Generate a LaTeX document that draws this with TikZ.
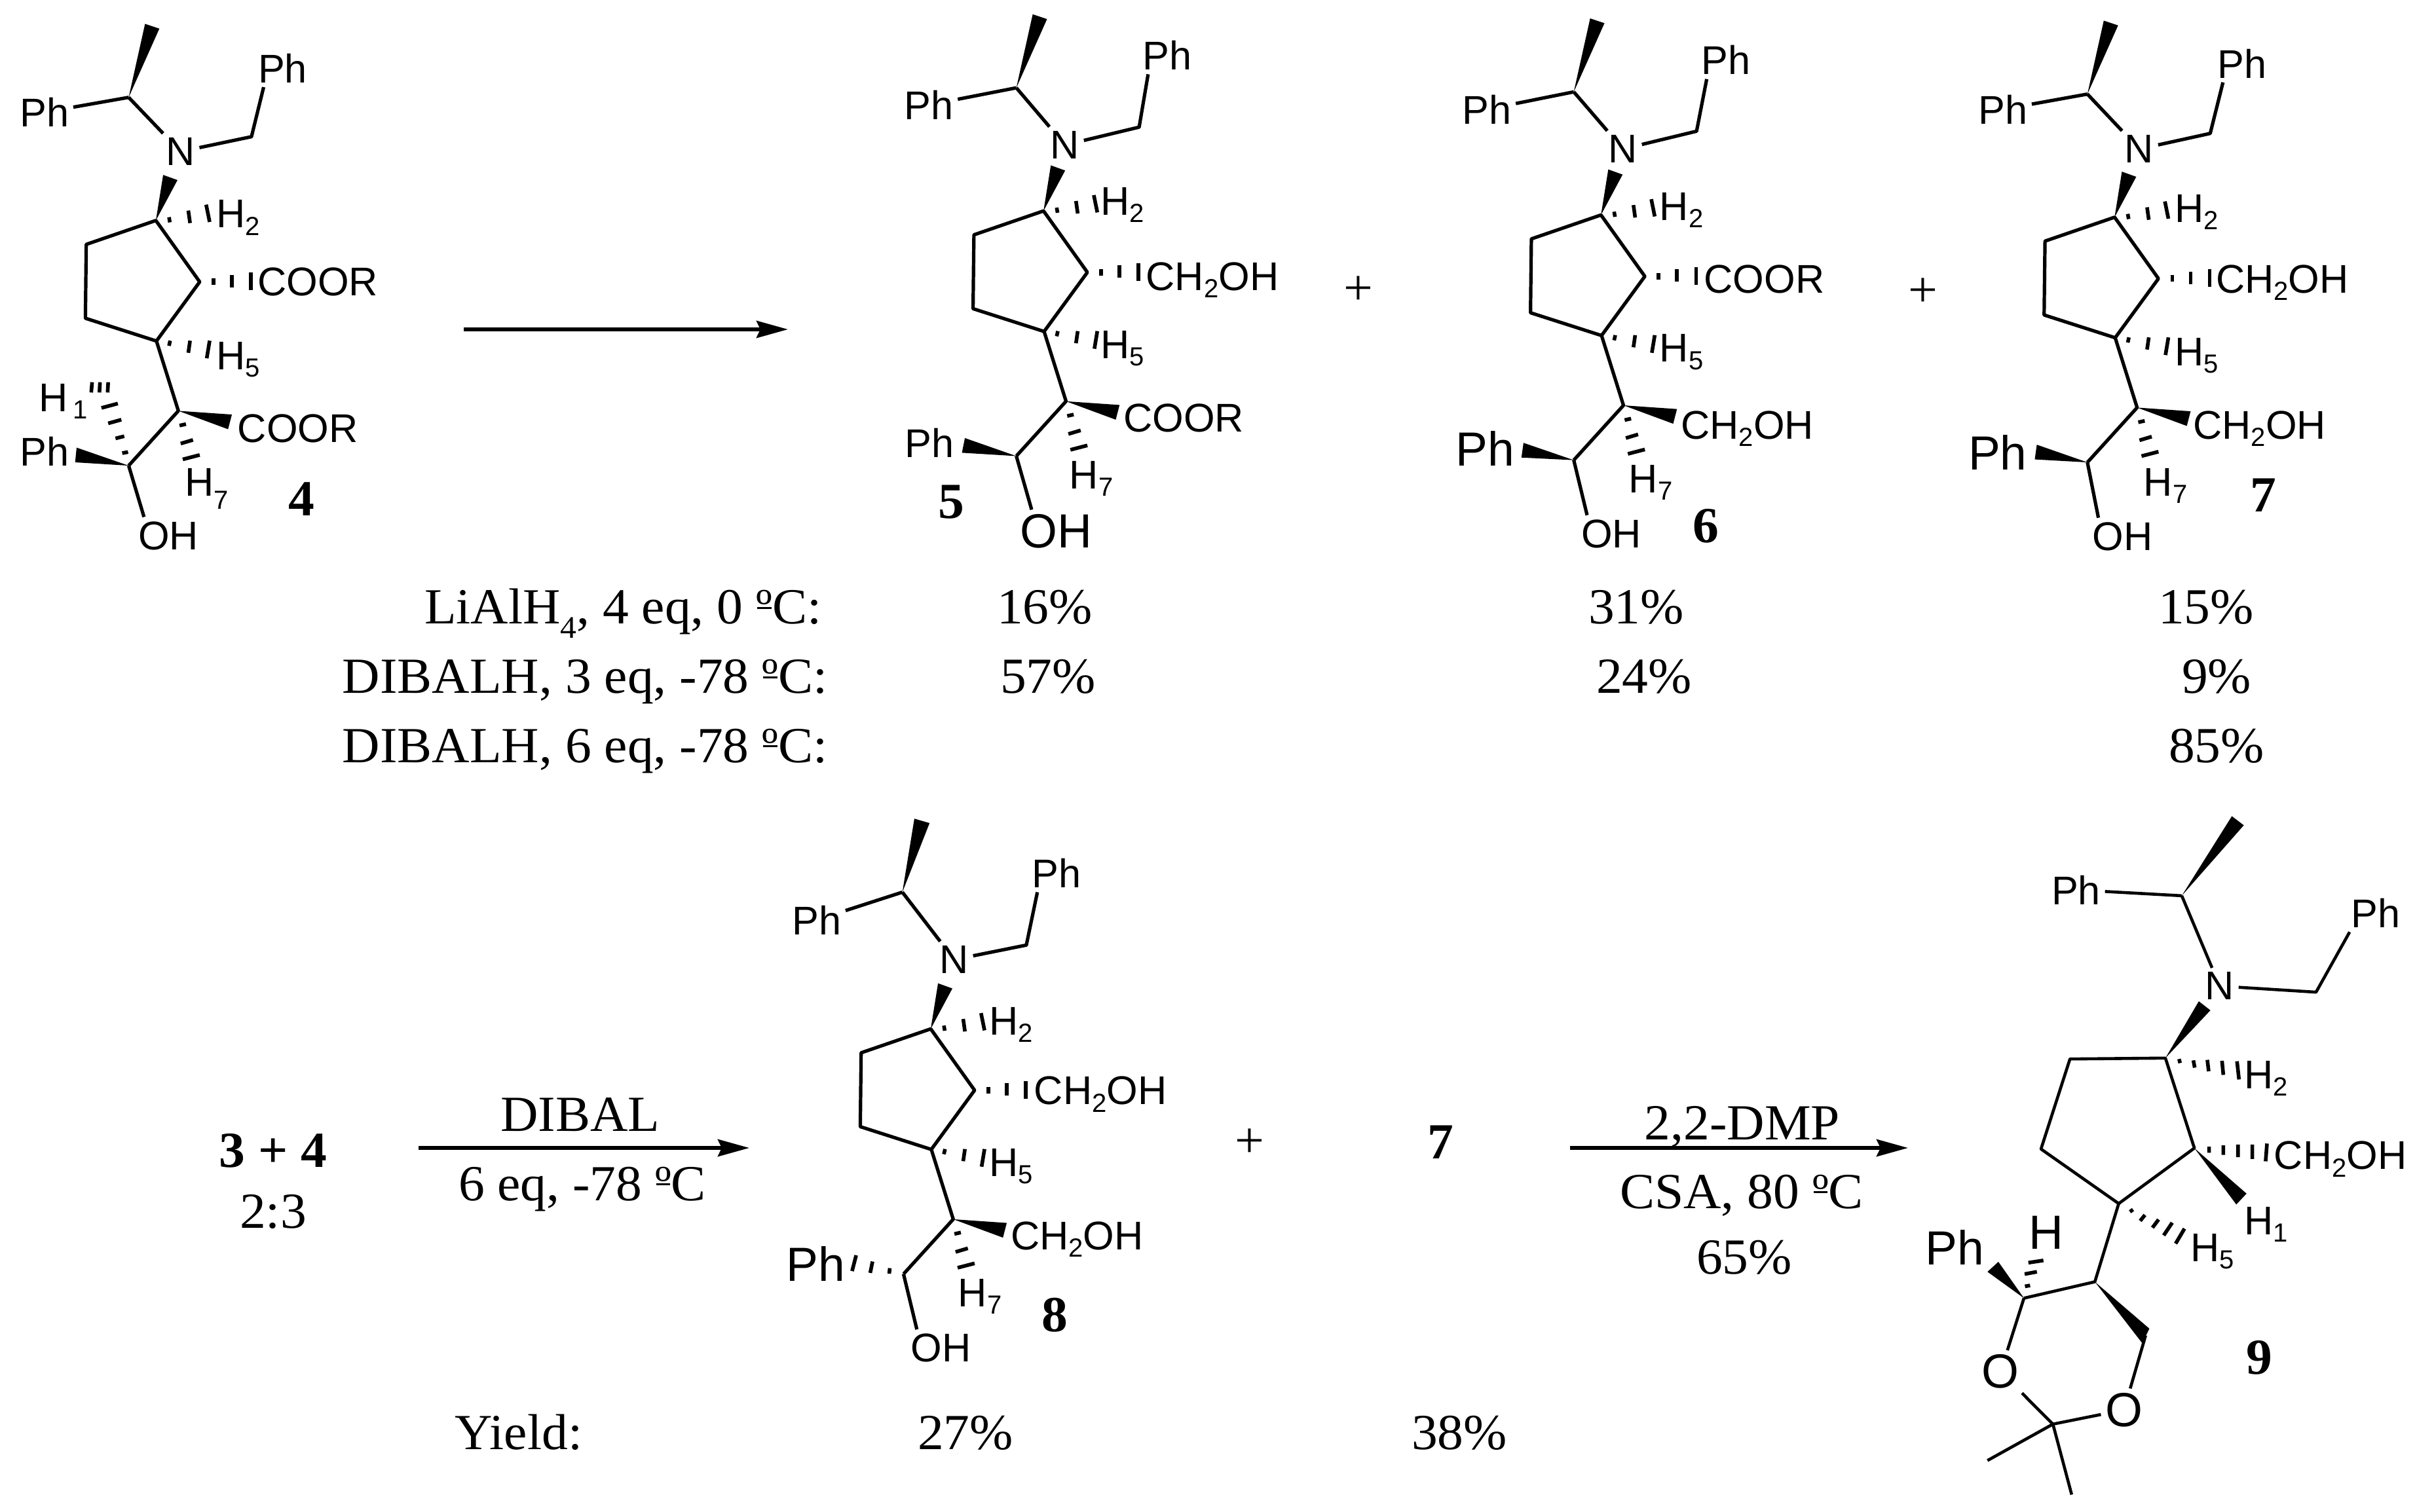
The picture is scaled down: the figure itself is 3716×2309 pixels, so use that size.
\documentclass[tikz,border=0pt]{standalone}
\usepackage{fontspec}
\usetikzlibrary{arrows.meta}
\newfontfamily\chemfam{Liberation Sans}
\newfontfamily\serfam[FakeStretch=1.03]{Liberation Serif}
\newcommand\chemN{\chemfam\fontsize{15.3}{18}\selectfont}
\newcommand\chemB{\chemfam\fontsize{18.3}{22}\selectfont}
\newcommand\serN{\serfam\fontsize{19.3}{23}\selectfont}
\newcommand\lowd[1]{\raisebox{-2.8pt}{\fontsize{10}{11}\selectfont #1}}
\newcommand\lowdd[1]{\raisebox{-5pt}{\fontsize{10}{11}\selectfont #1}}
\newcommand\chtwo{CH\lowd{2}OH}
\newcommand\ordm{\makebox[0pt][l]{\hspace{.02em}\raisebox{.3em}{\rule{.28em}{.035em}}}º}
\tikzset{
  bond/.style={line width=1.3pt,line join=round},
  thinbond/.style={line width=1.15pt,line join=round},
  hashb/.style={line width=1.4pt},
  atom/.style={inner sep=1.5pt,anchor=base west,xshift=-2.5pt,font=\chemN},
  bigatom/.style={atom,font=\chemB},
  txt/.style={inner sep=0pt,anchor=base,font=\serN},
  numb/.style={inner sep=0pt,anchor=base,font=\serN\bfseries},
  rxn/.style={line width=1.5pt,-{Stealth[length=12pt,width=6.5pt,inset=1.5pt]}},
}
\pgfkeys{/mol/.cd,
  ca/.store in=\mCa, ma/.store in=\mMa, mb/.store in=\mMb,
  phl/.store in=\mPhl, pht/.store in=\mPht, nn/.store in=\mNn,
  htwo/.store in=\mHtwo, rgt/.store in=\mRgt, rgttxt/.store in=\mRgtTxt,
  hfive/.store in=\mHfive, lowr/.store in=\mLowr, lowrtxt/.store in=\mLowrTxt,
  hseven/.store in=\mHseven, hseventxt/.store in=\mHsevenTxt,
  lph/.store in=\mLph, lphstyle/.store in=\mLphStyle,
  oh/.store in=\mOh, ohstyle/.store in=\mOhStyle, ohx/.store in=\mOhx,
  lowbond/.store in=\mLow, wa/.store in=\mWa, wb/.store in=\mWb}
% a molecule drawn in the frame of compound 4
\newcommand\drawmol[4]{%
\begin{scope}[shift={(#2,#3)},x=0.1116pt,y=-0.1403pt]
\def\mPre{#1}%
\pgfkeys{/mol/.cd,ca={440,265},ma={496,65},mb={545,78},
  phl={75,345},pht={890,225},nn={575,450},htwo={748,620},
  rgt={888,805},rgttxt={COOR},hfive={748,1005},
  lowr={820,1203},lowrtxt={COOR},hseven={640,1350},hseventxt={H\lowd{7}},
  lph={75,1268},lphstyle=atom,oh={480,1495},ohstyle=atom,ohx=3.9pt,
  wa={262,1218},wb={257,1258},
  lowbond={\fill (\mPre c8)--(\mWa)--(\mWb)--cycle;},#4}
\coordinate (#1ca) at (\mCa);
\coordinate (#1ch) at (860,372);
\coordinate (#1r1) at (533,600);
\coordinate (#1r2) at (683,767);
\coordinate (#1r3) at (535,928);
\coordinate (#1r4) at (292,866);
\coordinate (#1r5) at (295,665);
\coordinate (#1c7) at (610,1118);
\coordinate (#1c8) at (440,1267);
\node[atom] (#1phl) at (\mPhl) {Ph};
\node[atom] (#1pht) at (\mPht) {Ph};
\node[atom] (#1n) at (\mNn) {N};
\node[atom] (#1h2) at (\mHtwo) {H\lowd{2}};
\node[atom] (#1rgt) at (\mRgt) {\mRgtTxt};
\node[atom] (#1h5) at (\mHfive) {H\lowd{5}};
\node[atom] (#1lowr) at (\mLowr) {\mLowrTxt};
\node[atom] (#1h7) at (\mHseven) {\mHsevenTxt};
\node[\mLphStyle] (#1lph) at (\mLph) {Ph};
\node[\mOhStyle] (#1oh) at (\mOh) {OH};
\draw[bond] (#1ca) -- (#1phl);
\draw[bond] (#1ca) -- (#1n);
\draw[bond] (#1n) -- (#1ch) -- ([xshift=3.8pt]#1pht.south west);
\fill (#1ca) -- (\mMa) -- (\mMb) -- cycle;
\fill (#1r1) -- (558,476) -- (607,490) -- cycle;
\draw[bond] (#1r1) -- (#1r2) -- (#1r3) -- (#1r4) -- (#1r5) -- cycle;
\draw[bond] (#1r3) -- (#1c7) -- (#1c8);
\draw[bond] (#1c8) -- ([xshift=\mOhx]#1oh.north west);
\fill (#1c7) -- (793,1128) -- (780,1168) -- cycle;
\draw[hashb] (578,591)--(581,605) (644,573)--(650,607) (705,557)--(717,604);
\draw[hashb] (730,758)--(730,776) (793,748)--(793,782) (858,742)--(858,790);
\draw[hashb] (582,927)--(578,941) (650,927)--(644,960) (717,927)--(707,975);
\draw[hashb] (614,1158)--(636,1154) (618,1207)--(660,1197) (625,1250)--(683,1238);
\mLow
\end{scope}}
\begin{document}
\begin{tikzpicture}[x=0.25pt,y=-0.25pt]
\useasboundingbox (0,0) rectangle (3716,2309);

% compound 4
\drawmol{ma}{0}{0}{hseventxt={H\lowdd{7}},
  lowbond={\fill (\mPre c8)--(\mWa)--(\mWb)--cycle;
    \node[atom] (\mPre h1) at (140,1120) {H\hspace{2pt}\lowd{1}};
    \draw[hashb] (418,1233)--(438,1230) (395,1193)--(425,1187) (370,1152)--(415,1142) (347,1110)--(403,1098);
    \draw[hashb] (315,1040)--(312,1068) (342,1040)--(340,1068) (370,1040)--(368,1068);}}
% compound 5
\drawmol{mb}{1355.2}{-14.6}{phl={64,351},pht={879,216},nn={564,458},htwo={736,611},
  rgt={891,816},rgttxt={\chtwo},hfive={736,1001},lowr={814,1201},hseven={629,1356},
  lph={66,1271},wa={264,1218},wb={254,1258},oh={461,1516},ohstyle=bigatom,ohx=6pt}
% compound 6
\drawmol{mc}{2206.25}{-8.4}{phl={66,352},pht={883,218},nn={566,458},htwo={741,615},
  rgt={893,812},hfive={741,1000},lowr={814,1210},lowrtxt={\chtwo},hseven={636,1355},
  lph={43,1283},lphstyle=bigatom,wa={268,1220},wb={261,1260},oh={473,1505}}
% compound 7
\drawmol{md}{2990.4}{-5}{phl={74,346},pht={892,221},nn={575,452},htwo={747,614},
  rgt={887,806},rgttxt={\chtwo},hfive={747,1004},lowr={809,1204},lowrtxt={\chtwo},hseven={640,1359},
  lph={40,1287},lphstyle=bigatom,wa={267,1219},wb={260,1259},oh={465,1506}}
% compound 8
\drawmol{me}{1183}{1234.5}{ca={436,228},ma={477,28},mb={529,40},
  phl={66,343},pht={886,216},nn={571,449},htwo={741,616},
  rgt={894,806},rgttxt={\chtwo},hfive={741,1001},lowr={814,1201},lowrtxt={\chtwo},hseven={634,1356},
  lph={46,1286},lphstyle=bigatom,oh={473,1506},
  lowbond={\draw[hashb] (393,1251)--(391,1266) (334,1233)--(326,1264) (278,1216)--(264,1259);}}

% compound 9
\begin{scope}[shift={(2900,1220)},x=0.1301pt,y=-0.1736pt]
\coordinate (nca) at (828,213);
\coordinate (nch) at (1222,425);
\coordinate (nr1) at (780,570);
\coordinate (nr2) at (865,768);
\coordinate (nr3) at (643,890);
\coordinate (nr4) at (415,770);
\coordinate (nr5) at (500,572);
\coordinate (nc5) at (573,1062);
\coordinate (nc6) at (365,1098);
\coordinate (nc7) at (722,1180);
\coordinate (nq) at (450,1375);
\coordinate (nm1) at (258,1455);
\coordinate (nm2) at (505,1530);
\node[atom] (nphl) at (452,232) {Ph};
\node[atom] (npht) at (1332,283) {Ph};
\node[atom] (nn) at (903,442) {N};
\node[atom] (nh2) at (1017,637) {H\lowd{2}};
\node[atom] (nrgt) at (1105,815) {\chtwo};
\node[atom] (nh1) at (1017,958) {H\lowd{1}};
\node[atom] (nh5) at (860,1017) {H\lowd{5}};
\node[bigatom] (nphb) at (82,1025) {Ph};
\node[bigatom] (nh) at (385,990) {H};
\node[bigatom] (no1) at (248,1296) {O};
\node[bigatom] (no2) at (610,1380) {O};
\draw[thinbond] (nca) -- (nphl);
\draw[thinbond] (nca) -- (nn);
\draw[thinbond] (nn) -- (nch) -- ([xshift=1pt]npht.south west);
\fill (nca) -- (975,38) -- (1010,58) -- cycle;
\fill (nr1) -- (878,445) -- (912,465) -- cycle;
\draw[thinbond] (nr1) -- (nr2) -- (nr3) -- (nr4) -- (nr5) -- cycle;
\fill (nr2) -- (1018,868) -- (988,892) -- cycle;
\draw[thinbond] (nr3) -- (nc5) -- (nc6);
\fill (nc5) -- (733,1165) -- (712,1197) -- cycle;
\draw[thinbond] (nc7) -- (no2);
\draw[thinbond] (nc6) -- (no1);
\draw[thinbond] (no1) -- (nq) -- (no2);
\draw[thinbond] (nq) -- (nm1);
\draw[thinbond] (nq) -- (nm2);
\fill (nc6) -- (290,1018) -- (258,1040) -- cycle;
\draw[hashb] (820,572)--(823,581) (862,575)--(866,591) (903,574)--(907,599) (946,576)--(950,607) (990,577)--(996,617);
\draw[hashb] (908,765)--(908,778) (950,762)--(950,783) (993,760)--(993,788) (1035,760)--(1035,792) (1078,758)--(1074,797);
\draw[hashb] (676,908)--(685,903) (706,928)--(720,915) (742,943)--(760,925) (775,960)--(800,932) (810,978)--(836,945);
\draw[hashb] (368,1072)--(383,1070) (367,1045)--(403,1040) (378,1020)--(422,1015);
\end{scope}

% compound numbers
\node[numb] (l4) at (460,788) {4};
\node[numb] (l5) at (1452,792) {5};
\node[numb] (l6) at (2604,829) {6};
\node[numb] (l7) at (3455,782) {7};
\node[numb] (l8) at (1610,2033) {8};
\node[numb] (l9) at (3449,2098) {9};

% first reaction
\coordinate (a1s) at (708,503);
\coordinate (a1e) at (1203,503);
\draw[rxn] (a1s) -- (a1e);
\node[txt] (p1) at (2074,466) {+};
\node[txt] (p2) at (2936,469) {+};

% conditions table
\node[txt,anchor=base east] (c1) at (1255,953) {LiAlH{\raisebox{-5.5pt}{\fontsize{12}{14}\selectfont 4}}, 4 eq, 0 \ordm C:};
\node[txt,anchor=base east] (c2) at (1264,1059) {DIBALH, 3 eq, -78 \ordm C:};
\node[txt,anchor=base east] (c3) at (1264,1164) {DIBALH, 6 eq, -78 \ordm C:};
\node[txt] (y11) at (1595,953) {16\%};
\node[txt] (y12) at (2498,953) {31\%};
\node[txt] (y13) at (3368,953) {15\%};
\node[txt] (y21) at (1600,1059) {57\%};
\node[txt] (y22) at (2510,1059) {24\%};
\node[txt] (y23) at (3384,1059) {9\%};
\node[txt] (y33) at (3384,1164) {85\%};

% second reaction
\node[numb] (s1) at (417,1782) {3 + 4};
\node[txt] (s2) at (417,1875) {2:3};
\coordinate (a2s) at (639,1753);
\coordinate (a2e) at (1144,1753);
\draw[rxn] (a2s) -- (a2e);
\node[txt] (r1) at (886,1727) {DIBAL};
\node[txt] (r2) at (889,1833) {6 eq, -78 \ordm C};
\node[txt] (p3) at (1908,1767) {+};
\node[numb] (s7) at (2199,1769) {7};
\coordinate (a3s) at (2397,1753);
\coordinate (a3e) at (2913,1753);
\draw[rxn] (a3s) -- (a3e);
\node[txt] (r3) at (2660,1740) {2,2-DMP};
\node[txt] (r4) at (2659,1845) {CSA, 80 \ordm C};
\node[txt] (r5) at (2663,1945) {65\%};
\node[txt,anchor=base west] (yl) at (694,2213) {Yield:};
\node[txt] (y41) at (1474,2213) {27\%};
\node[txt] (y42) at (2228,2213) {38\%};
\end{tikzpicture}
\end{document}
